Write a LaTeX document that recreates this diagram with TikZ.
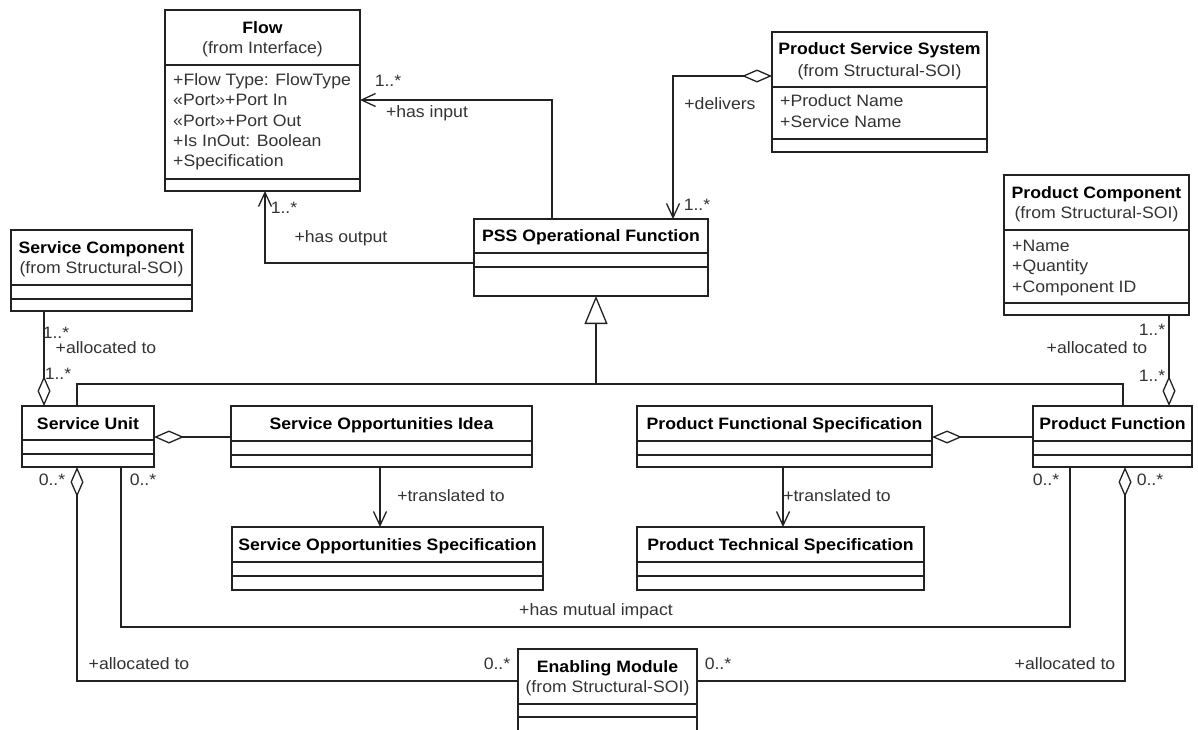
\documentclass[tikz,border=0pt]{standalone}
\usepackage{fontspec}
\setmainfont{Liberation Sans}[FakeStretch=1.07]
\usetikzlibrary{arrows.meta}
\definecolor{ln}{HTML}{222222}
\definecolor{tx}{HTML}{333333}
\newcommand{\umlbox}[7]{%
  \node[classbox, minimum width={(#4)-(#2)}, minimum height={(#5)-(#3)}] (#1) at ({((#2)+(#4))/2},{((#3)+(#5))/2}) {};
  \draw[sepline] (#1.west |- 0,#6) -- (#1.east |- 0,#6);
  \draw[sepline] (#1.west |- 0,#7) -- (#1.east |- 0,#7);
}
\begin{document}
\begin{tikzpicture}[x=1pt,y=-1pt,
  font=\fontsize{16.5}{20}\selectfont,
  classbox/.style={draw=ln, line width=1.3pt, inner sep=0pt, outer sep=0pt},
  sepline/.style={draw=ln, line width=1.3pt},
  txt/.style={inner sep=0pt, text height=13.5pt, text depth=1.7pt},
  title/.style={txt, font=\fontsize{16.5}{20}\selectfont\bfseries, text=black},
  sub/.style={txt, text=tx},
  attr/.style={txt, text=tx, anchor=west},
  lbl/.style={txt, text=tx},
  conn/.style={draw=ln, line width=1.3pt},
  nav/.style={conn, -{Straight Barb[length=14pt,width=13pt]}},
  agg/.style={conn, {Diamond[open,length=30pt,width=13pt]}-{Straight Barb[length=14pt,width=13pt]}},
  aggonly/.style={conn, {Diamond[open,length=30pt,width=13pt]}-},
  gen/.style={conn, -{Triangle[open,length=28pt,width=23pt]}}
]
\clip (0,0) rectangle (1198,729);
\useasboundingbox (0,0) rectangle (1198,729);

% ---------- classes ----------
\umlbox{flow}{165}{10}{360}{191}{65}{179}
\node[title] (flowT) at (262.5,28) {Flow};
\node[sub] (flowS) at (262.5,48) {(from Interface)};
\node[attr] (flowA1) at (173,80) {+Flow Type: FlowType};
\node[attr] (flowA2) at (173,100) {«Port»+Port In};
\node[attr] (flowA3) at (173,121) {«Port»+Port Out};
\node[attr] (flowA4) at (173,141) {+Is InOut: Boolean};
\node[attr] (flowA5) at (173,161) {+Specification};

\umlbox{pss}{772}{32}{987}{152}{87}{139}
\node[title] (pssT) at (879.5,49) {Product Service System};
\node[sub] (pssS) at (879.5,71) {(from Structural-SOI)};
\node[attr] (pssA1) at (780,101) {+Product Name};
\node[attr] (pssA2) at (780,122) {+Service Name};

\umlbox{psof}{474}{219}{708}{296}{253}{267}
\node[title] (psofT) at (591,236) {PSS Operational Function};

\umlbox{sc}{11}{230}{192}{311}{285}{299}
\node[title] (scT) at (101.5,248) {Service Component};
\node[sub] (scS) at (101.5,268) {(from Structural-SOI)};

\umlbox{pc}{1004}{175}{1189}{315}{230}{303}
\node[title] (pcT) at (1096.5,193) {Product Component};
\node[sub] (pcS) at (1096.5,213) {(from Structural-SOI)};
\node[attr] (pcA1) at (1012,246) {+Name};
\node[attr] (pcA2) at (1012,266) {+Quantity};
\node[attr] (pcA3) at (1012,287) {+Component ID};

\umlbox{su}{22}{406}{154}{467}{440}{454}
\node[title] (suT) at (88,424) {Service Unit};

\umlbox{soi}{231}{406}{532}{467}{441}{455}
\node[title] (soiT) at (381.5,424) {Service Opportunities Idea};

\umlbox{sos}{232}{527}{543}{590}{562}{576}
\node[title] (sosT) at (387.5,545) {Service Opportunities Specification};

\umlbox{pfs}{637}{406}{932}{467}{441}{455}
\node[title] (pfsT) at (784.5,424) {Product Functional Specification};

\umlbox{pts}{637}{527}{924}{590}{562}{576}
\node[title] (ptsT) at (780.5,545) {Product Technical Specification};

\umlbox{pf}{1033}{406}{1192}{467}{441}{455}
\node[title] (pfT) at (1112.5,424) {Product Function};

\umlbox{em}{518}{649}{697}{745}{704}{717}
\node[title] (emT) at (607.5,667) {Enabling Module};
\node[sub] (emS) at (607.5,687) {(from Structural-SOI)};

% ---------- connectors ----------
% has input
\draw[nav] (psof.north -| 552,0) -- (552,100) -- (flow.east |- 0,100);
\node[lbl] (l1a) at (388,81) {1..*};
\node[lbl] (l1b) at (427,112) {+has input};

% delivers
\draw[agg] (pss.west |- 0,76) -- (673,76) -- (psof.north -| 673,0);
\node[lbl] (l2a) at (720,104) {+delivers};
\node[lbl] (l2b) at (697,205) {1..*};

% has output
\draw[nav] (psof.west |- 0,263) -- (265,263) -- (flow.south -| 265,0);
\node[lbl] (l3a) at (284,208) {1..*};
\node[lbl] (l3b) at (341,237) {+has output};

% generalization
\coordinate (gj) at (596,384);
\draw[conn] (su.north -| 77,0) -- (77,384) -- (1123,384) -- (pf.north -| 1123,0);
\draw[gen] (gj) -- (psof.south -| gj);

% service component -> service unit
\draw[aggonly] (su.north -| 44,0) -- (sc.south -| 44,0);
\node[lbl] (l4a) at (56,333) {1..*};
\node[lbl] (l4b) at (106,348) {+allocated to};
\node[lbl] (l4c) at (58,374) {1..*};

% service unit - service opportunities idea
\draw[aggonly] (su.east |- 0,437) -- (soi.west |- 0,437);

% translated to (service)
\draw[nav] (soi.south -| 380,0) -- (sos.north -| 380,0);
\node[lbl] (l5) at (451,496) {+translated to};

% product functional spec - product function
\draw[aggonly] (pfs.east |- 0,437) -- (pf.west |- 0,437);

% translated to (product)
\draw[nav] (pfs.south -| 783,0) -- (pts.north -| 783,0);
\node[lbl] (l6) at (837,496) {+translated to};

% product component -> product function
\draw[aggonly] (pf.north -| 1169,0) -- (pc.south -| 1169,0);
\node[lbl] (l7a) at (1152,330) {1..*};
\node[lbl] (l7b) at (1097,348) {+allocated to};
\node[lbl] (l7c) at (1152,376) {1..*};

% has mutual impact
\draw[conn] (su.south -| 121,0) -- (121,627) -- (1070,627) -- (pf.south -| 1070,0);
\node[lbl] (l8a) at (143,480) {0..*};
\node[lbl] (l8b) at (1046,480) {0..*};
\node[lbl] (l8c) at (596,610) {+has mutual impact};

% service unit - enabling module
\draw[aggonly] (su.south -| 77,0) -- (77,681) -- (em.west |- 0,681);
\node[lbl] (l9a) at (52,480) {0..*};
\node[lbl] (l9b) at (139,664) {+allocated to};
\node[lbl] (l9c) at (497,664) {0..*};

% product function - enabling module
\draw[aggonly] (pf.south -| 1125,0) -- (1125,681) -- (em.east |- 0,681);
\node[lbl] (l10a) at (1150,480) {0..*};
\node[lbl] (l10b) at (718,664) {0..*};
\node[lbl] (l10c) at (1065,664) {+allocated to};
\end{tikzpicture}
\end{document}
